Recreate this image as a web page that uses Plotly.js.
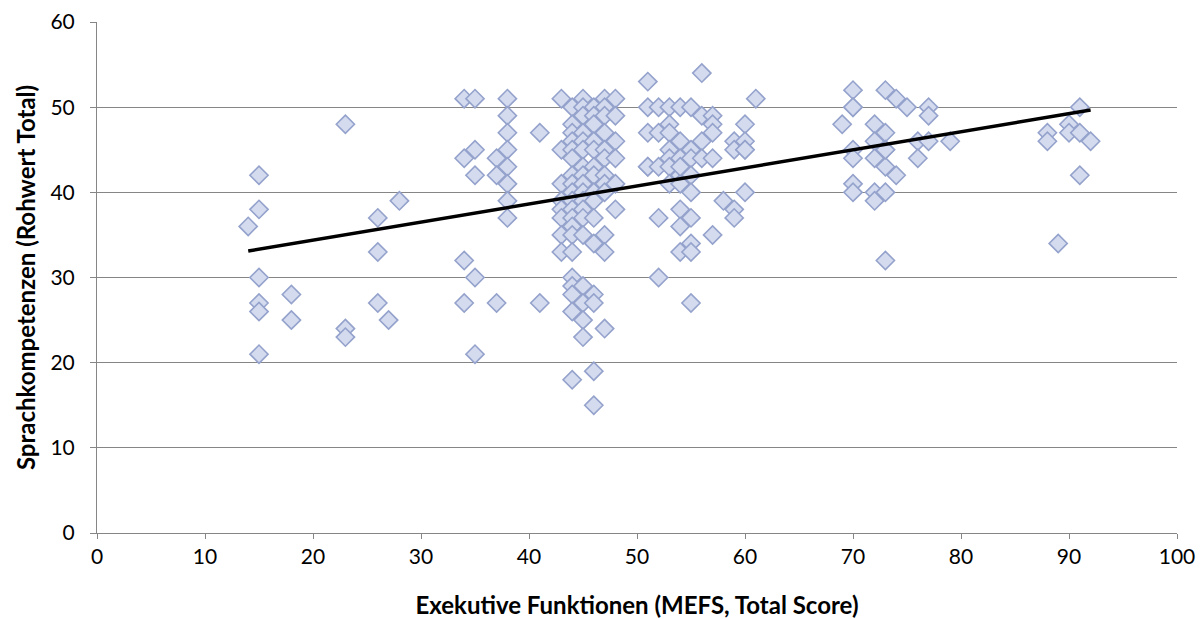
<!DOCTYPE html>
<html>
<head>
<meta charset="utf-8">
<script src="https://cdn.plot.ly/plotly-3.0.1.min.js"></script>
<style>html,body{margin:0;padding:0;background:#fff;}#chart{width:1201px;height:619px;}</style>
</head>
<body>
<div id="chart"></div>
<script>
// MEFS total score (x) and language competence raw total (y)
const mefs = [
  14,15,15,15,15,15,15,
  18,18,
  23,23,23,
  26,26,26,27,28,
  34,34,34,34,
  35,35,35,35,35,
  37,37,37,
  38,38,38,38,38,38,38,38,
  41,41,
  43,43,43,43,43,43,43,43,
  44,44,44,44,44,44,44,44,44,44,44,44,44,44,44,44,44,44,44,44,
  45,45,45,45,45,45,45,45,45,45,45,45,45,45,45,45,45,45,
  46,46,46,46,46,46,46,46,46,46,46,46,46,46,46,
  47,47,47,47,47,47,47,47,47,47,47,47,
  48,48,48,48,48,48,
  51,51,51,51,51,
  52,52,52,52,52,
  53,53,53,53,53,53,53,
  54,54,54,54,54,54,54,54,54,
  55,55,55,55,55,55,55,55,55,
  56,56,56,56,
  57,57,57,57,57,
  58,59,59,59,59,
  60,60,60,60,60,61,
  69,70,70,70,70,70,70,70,
  72,72,72,72,72,
  73,73,73,73,73,73,73,
  74,74,75,76,76,77,77,77,79,
  88,88,89,90,90,91,91,91,92
];
const sprache = [
  36,42,38,30,27,26,21,
  28,25,
  48,24,23,
  37,33,27,25,39,
  51,44,32,27,
  51,45,42,30,21,
  44,42,27,
  51,49,47,45,43,41,39,37,
  47,27,
  51,45,41,39,38,37,35,33,
  50,48,47,46,45,44,42,41,40,39,38,37,36,35,33,30,29,28,26,18,
  51,50,49,47,46,45,43,42,41,40,39,38,37,35,29,27,25,23,
  50,49,48,46,45,43,42,40,39,37,34,28,27,19,15,
  51,50,49,47,45,44,42,41,40,35,33,24,
  51,49,46,44,41,38,
  53,50,47,43,43,
  50,47,43,37,30,
  50,48,47,45,44,43,41,
  50,46,44,42,41,38,36,33,43,
  50,45,44,42,40,37,34,33,27,
  54,49,46,44,
  49,48,47,44,35,
  39,46,45,38,37,
  48,46,45,40,45,51,
  48,52,50,45,44,41,40,50,
  48,46,44,40,39,
  52,47,45,43,40,32,45,
  51,42,50,46,44,50,49,46,46,
  47,46,34,48,47,50,47,42,46
];
const xTicks = [0,10,20,30,40,50,60,70,80,90,100];
const yTicks = [0,10,20,30,40,50,60];

// linear least-squares trend line computed from the data
const n = mefs.length;
const mx = mefs.reduce((a,b)=>a+b,0)/n;
const my = sprache.reduce((a,b)=>a+b,0)/n;
let sxy=0, sxx=0;
for(let i=0;i<n;i++){sxy+=(mefs[i]-mx)*(sprache[i]-my);sxx+=(mefs[i]-mx)*(mefs[i]-mx);}
const slope = sxy/sxx, icpt = my - slope*mx;
const xmin = Math.min(...mefs), xmax = Math.max(...mefs);

const font = "Lato, 'Open Sans', sans-serif";
const traces = [
  {x: mefs, y: sprache, type:'scatter', mode:'markers', hoverinfo:'x+y',
   marker:{symbol:'diamond', size:14, color:'#d4dbef', line:{color:'#94a2cc', width:1.6}}},
  {x:[xmin,xmax], y:[icpt+slope*xmin, icpt+slope*xmax], type:'scatter', mode:'lines',
   line:{color:'#000', width:3.5}, hoverinfo:'skip'}
];
const layout = {
  width:1201, height:619, showlegend:false,
  paper_bgcolor:'#fff', plot_bgcolor:'#fff',
  margin:{l:97, r:24, t:22, b:86},
  font:{family:font, size:21, color:'#000'},
  xaxis:{range:[0,100], tickvals:xTicks, ticktext:xTicks.map(String), showgrid:false, zeroline:false,
    showline:true, linecolor:'#868686', linewidth:1, ticks:'outside', ticklen:5, tickcolor:'#868686',
    tickfont:{size:21}, title:{text:'<b>Exekutive Funktionen (MEFS, Total Score)</b>', font:{size:24}, standoff:32}},
  yaxis:{range:[0,60], tickvals:yTicks, ticktext:yTicks.map(String), showgrid:true, gridcolor:'#868686', gridwidth:1,
    zeroline:false, showline:true, linecolor:'#868686', linewidth:1, ticks:'outside', ticklen:6, tickcolor:'#868686',
    ticklabelstandoff:11,
    tickfont:{size:21}, title:{text:'<b>Sprachkompetenzen (Rohwert Total)</b>', font:{size:24}, standoff:8}}
};
Plotly.newPlot('chart', traces, layout, {displayModeBar:false, staticPlot:true});
</script>
</body>
</html>
